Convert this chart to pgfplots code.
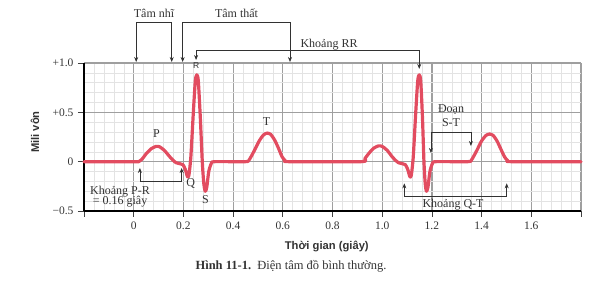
\documentclass[border=0pt]{standalone}
\usepackage{pgfplots}
\pgfplotsset{compat=1.18}
\usepackage{fontspec}
\setmainfont{Liberation Serif}
\setsansfont{Liberation Sans}
\usetikzlibrary{arrows.meta}
\definecolor{ecg}{RGB}{226,76,96}
\definecolor{txt}{RGB}{50,50,50}
\begin{document}
\begin{tikzpicture}
\path[use as bounding box] (0,0) rectangle (602pt,286pt);
\begin{axis}[
  at={(84pt,75pt)}, anchor=south west,
  scale only axis, width=497pt, height=148pt,
  xmin=-0.2, xmax=1.8, ymin=-0.5, ymax=1.0,
  clip=false,
  axis x line*=bottom, axis y line*=left,
  axis line style={black, line width=1.6pt},
  xtick={-0.2,0,0.2,0.4,0.6,0.8,1.0,1.2,1.4,1.6,1.8},
  xticklabels={,0,0.2,0.4,0.6,0.8,1.0,1.2,1.4,1.6,},
  ytick={-0.5,0,0.5,1.0},
  yticklabels={−0.5,0,+0.5,+1.0},
  minor x tick num=4, minor y tick num=4,
  grid=both,
  major grid style={gray!75, line width=1.2pt},
  minor grid style={gray!22, line width=0.5pt},
  tick align=outside, major tick length=6pt, minor tick length=0pt,
  major tick style={gray!50!black, line width=0.8pt},
  tick label style={font=\fontsize{11.5}{13}\selectfont, text=gray!40!black},
  /pgf/number format/assume math mode=true,
  xticklabel style={yshift=-1pt},
  yticklabel style={xshift=-1pt},
]
\addplot[ecg, line width=3.2pt, smooth, tension=0.4, line join=round, line cap=round] coordinates {
(-0.2,0) (0.0,0) (0.02,0) (0.035,0.03) (0.05,0.08) (0.07,0.13) (0.09,0.155) (0.105,0.15)
(0.125,0.11) (0.145,0.05) (0.16,0.01) (0.17,-0.01) (0.185,-0.02) (0.198,-0.03)
(0.208,-0.08) (0.216,-0.15) (0.222,-0.14) (0.23,0.05) (0.24,0.5) (0.248,0.82)
(0.254,0.88) (0.26,0.82) (0.268,0.45) (0.276,0.0) (0.282,-0.22) (0.288,-0.30)
(0.294,-0.26) (0.302,-0.1) (0.312,-0.02) (0.325,0) (0.45,0) (0.465,0.02)
(0.485,0.11) (0.505,0.21) (0.522,0.27) (0.537,0.29) (0.552,0.275) (0.567,0.22)
(0.582,0.14) (0.597,0.05) (0.61,0.01) (0.625,0)
(0.915,0) (0.93,0.03) (0.945,0.08) (0.965,0.135) (0.985,0.16) (1.0,0.155)
(1.02,0.115) (1.04,0.05) (1.055,0.01) (1.065,-0.01) (1.08,-0.02) (1.093,-0.03)
(1.103,-0.08) (1.111,-0.15) (1.117,-0.14) (1.125,0.05) (1.135,0.5) (1.143,0.82)
(1.149,0.88) (1.155,0.82) (1.162,0.45) (1.168,0.0) (1.173,-0.22) (1.178,-0.30)
(1.184,-0.26) (1.192,-0.1) (1.202,-0.02) (1.215,0) (1.345,0) (1.36,0.02)
(1.38,0.11) (1.40,0.21) (1.417,0.265) (1.432,0.28) (1.447,0.265) (1.462,0.21)
(1.477,0.13) (1.492,0.05) (1.505,0.01) (1.52,0) (1.8,0)
};
% annotations
\tikzset{ann/.style={txt, line width=0.7pt, {Stealth[length=5pt,width=4pt]}-{Stealth[length=5pt,width=4pt]}},
         lab/.style={txt, font=\fontsize{12}{13}\selectfont, inner sep=0pt}}
\draw[ann] (axis cs:0.01,1.01) -- (axis cs:0.01,1.408) -- (axis cs:0.153,1.408) -- (axis cs:0.153,1.01);
\draw[ann] (axis cs:0.197,1.01) -- (axis cs:0.197,1.408) -- (axis cs:0.629,1.408) -- (axis cs:0.629,1.01);
\draw[ann] (axis cs:0.251,1.03) -- (axis cs:0.251,1.125) -- (axis cs:1.149,1.125) -- (axis cs:1.149,0.94);
\draw[ann] (axis cs:1.196,0.088) -- (axis cs:1.196,0.294) -- (axis cs:1.357,0.294) -- (axis cs:1.357,0.159);
\draw[ann] (axis cs:1.089,-0.22) -- (axis cs:1.089,-0.348) -- (axis cs:1.501,-0.348) -- (axis cs:1.501,-0.22);
\draw[ann] (axis cs:0.025,-0.064) -- (axis cs:0.025,-0.203) -- (axis cs:0.193,-0.203) -- (axis cs:0.193,-0.064);
\node[lab] at (axis cs:0.082,1.50) {Tâm nhĩ};
\node[lab] at (axis cs:0.414,1.50) {Tâm thất};
\node[lab] at (axis cs:0.786,1.185) {Khoảng RR};
\node[lab] at (axis cs:1.277,0.524) {Đoạn};
\node[lab] at (axis cs:1.277,0.392) {S-T};
\node[lab] at (axis cs:1.285,-0.44) {Khoảng Q-T};
\node[lab] at (axis cs:-0.055,-0.30) {Khoảng P-R};
\node[lab] at (axis cs:-0.055,-0.41) {= 0.16 giây};
\node[lab] at (axis cs:0.092,0.28) {P};
\node[lab] at (axis cs:0.229,-0.22) {Q};
\node[lab, font=\sffamily\fontsize{8.5}{9}\selectfont] at (axis cs:0.251,0.97) {R};
\node[lab] at (axis cs:0.289,-0.38) {S};
\node[lab] at (axis cs:0.535,0.405) {T};
\node[txt, font=\sffamily\bfseries\fontsize{11.2}{13}\selectfont, rotate=90, inner sep=0pt] at (axis cs:-0.397,0.30) {Mili vôn};
\node[txt, font=\sffamily\bfseries\fontsize{11.2}{13}\selectfont, inner sep=0pt] at (axis cs:0.777,-0.862) {Thời gian (giây)};
\node[txt, font=\fontsize{12.5}{14}\selectfont, inner sep=0pt] at (axis cs:0.633,-1.064) {\textbf{Hình 11-1.}\ \ Điện tâm đồ bình thường.};
\end{axis}
\end{tikzpicture}
\end{document}
